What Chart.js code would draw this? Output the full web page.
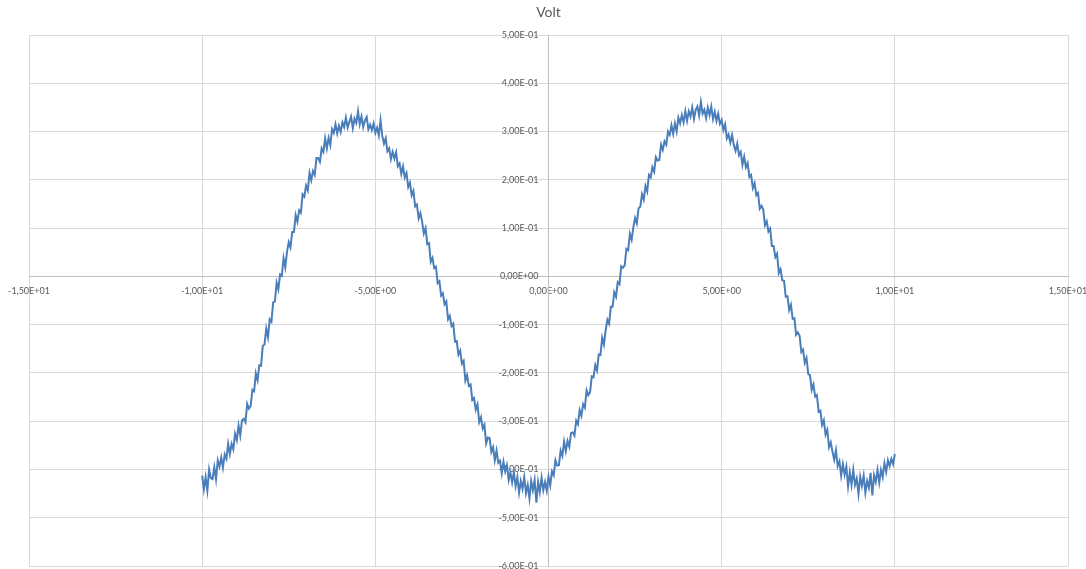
<!DOCTYPE html>
<html><head><meta charset="utf-8">
<script src="https://cdn.jsdelivr.net/npm/chart.js@4"></script>
<style>html,body{margin:0;padding:0;background:#fff;}canvas{display:block;}</style>
</head><body>
<canvas id="c" width="1086" height="569"></canvas>
<script>
const chartTitle = "Volt";
const xValues = [
-10,-9.95,-9.9,-9.85,-9.8,-9.75,-9.7,-9.65,-9.6,-9.55,-9.5,-9.45,-9.4,-9.35,-9.3,-9.25,-9.2,-9.15,-9.1,-9.05,
-9,-8.95,-8.9,-8.85,-8.8,-8.75,-8.7,-8.65,-8.6,-8.55,-8.5,-8.45,-8.4,-8.35,-8.3,-8.25,-8.2,-8.15,-8.1,-8.05,
-8,-7.95,-7.9,-7.85,-7.8,-7.75,-7.7,-7.65,-7.6,-7.55,-7.5,-7.45,-7.4,-7.35,-7.3,-7.25,-7.2,-7.15,-7.1,-7.05,
-7,-6.95,-6.9,-6.85,-6.8,-6.75,-6.7,-6.65,-6.6,-6.55,-6.5,-6.45,-6.4,-6.35,-6.3,-6.25,-6.2,-6.15,-6.1,-6.05,
-6,-5.95,-5.9,-5.85,-5.8,-5.75,-5.7,-5.65,-5.6,-5.55,-5.5,-5.45,-5.4,-5.35,-5.3,-5.25,-5.2,-5.15,-5.1,-5.05,
-5,-4.95,-4.9,-4.85,-4.8,-4.75,-4.7,-4.65,-4.6,-4.55,-4.5,-4.45,-4.4,-4.35,-4.3,-4.25,-4.2,-4.15,-4.1,-4.05,
-4,-3.95,-3.9,-3.85,-3.8,-3.75,-3.7,-3.65,-3.6,-3.55,-3.5,-3.45,-3.4,-3.35,-3.3,-3.25,-3.2,-3.15,-3.1,-3.05,
-3,-2.95,-2.9,-2.85,-2.8,-2.75,-2.7,-2.65,-2.6,-2.55,-2.5,-2.45,-2.4,-2.35,-2.3,-2.25,-2.2,-2.15,-2.1,-2.05,
-2,-1.95,-1.9,-1.85,-1.8,-1.75,-1.7,-1.65,-1.6,-1.55,-1.5,-1.45,-1.4,-1.35,-1.3,-1.25,-1.2,-1.15,-1.1,-1.05,
-1,-0.95,-0.9,-0.85,-0.8,-0.75,-0.7,-0.65,-0.6,-0.55,-0.5,-0.45,-0.4,-0.35,-0.3,-0.25,-0.2,-0.15,-0.1,-0.05,
0,0.05,0.1,0.15,0.2,0.25,0.3,0.35,0.4,0.45,0.5,0.55,0.6,0.65,0.7,0.75,0.8,0.85,0.9,0.95,
1,1.05,1.1,1.15,1.2,1.25,1.3,1.35,1.4,1.45,1.5,1.55,1.6,1.65,1.7,1.75,1.8,1.85,1.9,1.95,
2,2.05,2.1,2.15,2.2,2.25,2.3,2.35,2.4,2.45,2.5,2.55,2.6,2.65,2.7,2.75,2.8,2.85,2.9,2.95,
3,3.05,3.1,3.15,3.2,3.25,3.3,3.35,3.4,3.45,3.5,3.55,3.6,3.65,3.7,3.75,3.8,3.85,3.9,3.95,
4,4.05,4.1,4.15,4.2,4.25,4.3,4.35,4.4,4.45,4.5,4.55,4.6,4.65,4.7,4.75,4.8,4.85,4.9,4.95,
5,5.05,5.1,5.15,5.2,5.25,5.3,5.35,5.4,5.45,5.5,5.55,5.6,5.65,5.7,5.75,5.8,5.85,5.9,5.95,
6,6.05,6.1,6.15,6.2,6.25,6.3,6.35,6.4,6.45,6.5,6.55,6.6,6.65,6.7,6.75,6.8,6.85,6.9,6.95,
7,7.05,7.1,7.15,7.2,7.25,7.3,7.35,7.4,7.45,7.5,7.55,7.6,7.65,7.7,7.75,7.8,7.85,7.9,7.95,
8,8.05,8.1,8.15,8.2,8.25,8.3,8.35,8.4,8.45,8.5,8.55,8.6,8.65,8.7,8.75,8.8,8.85,8.9,8.95,
9,9.05,9.1,9.15,9.2,9.25,9.3,9.35,9.4,9.45,9.5,9.55,9.6,9.65,9.7,9.75,9.8,9.85,9.9,9.95,10
];
const voltValues = [
-0.413,-0.441,-0.416,-0.444,-0.400,-0.418,-0.420,-0.395,-0.420,-0.381,-0.394,-0.375,-0.396,-0.369,-0.378,-0.347,-0.368,-0.347,-0.358,-0.326,
-0.339,-0.309,-0.330,-0.298,-0.295,-0.302,-0.264,-0.274,-0.269,-0.235,-0.238,-0.201,-0.215,-0.184,-0.185,-0.144,-0.141,-0.108,-0.126,-0.089,
-0.094,-0.054,-0.052,-0.013,-0.027,0.004,0.001,0.038,0.019,0.051,0.071,0.060,0.092,0.092,0.127,0.113,0.137,0.132,0.170,0.165,
0.188,0.178,0.214,0.199,0.218,0.210,0.245,0.245,0.237,0.265,0.258,0.286,0.265,0.287,0.272,0.305,0.297,0.315,0.296,0.312,
0.299,0.319,0.309,0.329,0.308,0.320,0.331,0.307,0.327,0.318,0.342,0.315,0.331,0.309,0.323,0.330,0.305,0.314,0.303,0.317,
0.297,0.308,0.292,0.323,0.291,0.275,0.286,0.259,0.265,0.243,0.258,0.244,0.257,0.228,0.234,0.212,0.228,0.205,0.214,0.185,
0.194,0.168,0.177,0.145,0.149,0.120,0.131,0.114,0.089,0.100,0.067,0.069,0.030,0.038,0.017,0.020,-0.014,-0.010,-0.040,-0.035,
-0.058,-0.052,-0.089,-0.082,-0.103,-0.098,-0.135,-0.134,-0.162,-0.154,-0.181,-0.175,-0.216,-0.205,-0.227,-0.224,-0.256,-0.252,-0.276,-0.265,
-0.302,-0.292,-0.315,-0.307,-0.346,-0.334,-0.335,-0.364,-0.354,-0.381,-0.361,-0.386,-0.382,-0.408,-0.384,-0.404,-0.391,-0.422,-0.406,-0.427,
-0.406,-0.435,-0.416,-0.448,-0.424,-0.440,-0.416,-0.449,-0.432,-0.460,-0.424,-0.443,-0.422,-0.469,-0.426,-0.447,-0.417,-0.443,-0.426,-0.444,
-0.415,-0.433,-0.404,-0.412,-0.381,-0.392,-0.391,-0.361,-0.372,-0.342,-0.362,-0.341,-0.353,-0.325,-0.323,-0.330,-0.299,-0.306,-0.277,-0.289,
-0.265,-0.272,-0.236,-0.246,-0.240,-0.207,-0.209,-0.184,-0.195,-0.162,-0.163,-0.127,-0.141,-0.112,-0.090,-0.098,-0.063,-0.063,-0.033,-0.042,
-0.012,-0.016,0.021,0.018,0.023,0.057,0.054,0.088,0.076,0.102,0.121,0.110,0.141,0.144,0.170,0.159,0.187,0.176,0.210,0.205,
0.226,0.217,0.247,0.240,0.241,0.273,0.262,0.280,0.273,0.300,0.293,0.313,0.295,0.317,0.300,0.329,0.317,0.334,0.319,0.342,
0.322,0.342,0.331,0.350,0.326,0.345,0.352,0.333,0.361,0.337,0.345,0.328,0.350,0.334,0.352,0.326,0.341,0.322,0.337,0.316,
0.324,0.303,0.315,0.286,0.294,0.277,0.293,0.272,0.260,0.275,0.251,0.258,0.231,0.248,0.226,0.235,0.206,0.210,0.183,0.193,
0.168,0.173,0.140,0.146,0.139,0.106,0.114,0.093,0.099,0.063,0.063,0.040,0.047,0.007,0.015,-0.008,-0.009,-0.042,-0.041,-0.070,
-0.059,-0.088,-0.087,-0.121,-0.116,-0.123,-0.157,-0.152,-0.179,-0.169,-0.202,-0.205,-0.235,-0.224,-0.249,-0.246,-0.280,-0.278,-0.308,-0.298,
-0.328,-0.318,-0.354,-0.344,-0.363,-0.380,-0.360,-0.393,-0.383,-0.413,-0.389,-0.411,-0.394,-0.435,-0.406,-0.432,-0.401,-0.432,-0.419,-0.451,
-0.415,-0.434,-0.413,-0.448,-0.424,-0.438,-0.407,-0.454,-0.412,-0.426,-0.401,-0.427,-0.401,-0.416,-0.387,-0.405,-0.381,-0.393,-0.378,-0.389,-0.368
];
const xTickValues = [-15,-10,-5,0,5,10,15];
const yTickValues = [-0.6,-0.5,-0.4,-0.3,-0.2,-0.1,0,0.1,0.2,0.3,0.4,0.5];

function sci(v){
  if (Math.abs(v) < 1e-12) v = 0;
  const parts = v.toExponential(2).split('e');
  const e = parseInt(parts[1], 10);
  return parts[0].replace('.', ',') + 'E' + (e < 0 ? '-' : '+') + String(Math.abs(e)).padStart(2, '0');
}

const points = xValues.map((x, i) => ({x: x, y: voltValues[i]}));
const tickFont = {family: 'Lato', size: 9};
const textColor = '#595959';

const shiftYLabels = {
  id: 'shiftYLabels',
  afterUpdate(chart) {
    const items = chart.scales.y.getLabelItems();
    items.forEach(it => { it.options.translation[0] -= 10; });
  }
};

new Chart(document.getElementById('c'), {
  type: 'scatter',
  data: {datasets: [{
    label: chartTitle,
    data: points,
    showLine: true,
    borderColor: '#4a7ebb',
    backgroundColor: '#4a7ebb',
    borderWidth: 2,
    pointRadius: 0,
    pointHoverRadius: 0,
    tension: 0
  }]},
  plugins: [shiftYLabels],
  options: {
    responsive: false,
    animation: false,
    events: [],
    layout: {padding: {left: 29, right: 18, top: 0, bottom: 3}},
    plugins: {
      legend: {display: false},
      tooltip: {enabled: false},
      title: {display: true, text: chartTitle, color: textColor,
        font: {family: 'Lato', size: 14, weight: 'normal', lineHeight: 1.2},
        padding: {top: 4, bottom: 14.2}}
    },
    scales: {
      x: {
        type: 'linear', min: -15, max: 15,
        position: {y: 0},
        afterBuildTicks: s => { s.ticks = xTickValues.map(v => ({value: v})); },
        afterFit: s => { s.paddingLeft = 0; s.paddingRight = 0; },
        grid: {color: '#d9d9d9', lineWidth: 1, drawTicks: false},
        border: {color: '#bfbfbf', width: 1},
        ticks: {font: tickFont, color: textColor, padding: 9, autoSkip: false, maxRotation: 0, callback: v => sci(v)}
      },
      y: {
        type: 'linear', min: -0.6, max: 0.5,
        position: {x: 0},
        afterBuildTicks: s => { s.ticks = yTickValues.map(v => ({value: v})); },
        afterFit: s => { s.paddingTop = 0; s.paddingBottom = 0; },
        grid: {color: '#d9d9d9', lineWidth: 1, drawTicks: false},
        border: {color: '#bfbfbf', width: 1},
        ticks: {font: tickFont, color: textColor, padding: 10, autoSkip: false, callback: v => sci(v)}
      }
    }
  }
});
</script>
</body></html>
